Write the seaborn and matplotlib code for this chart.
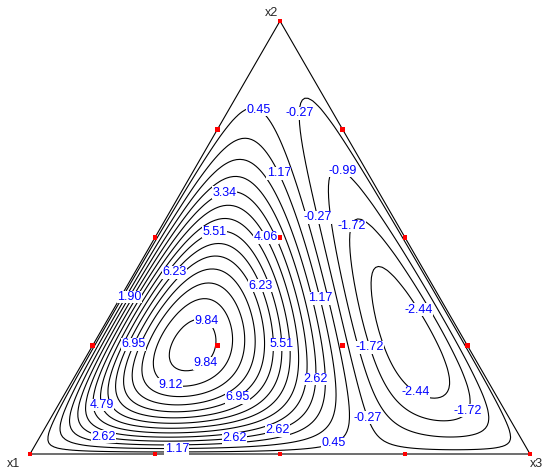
import numpy as np
import matplotlib
matplotlib.use("Agg")
import matplotlib.pyplot as plt
import matplotlib.tri as mtri
import seaborn as sns
import pandas as pd

# design points of the {3,4} simplex lattice (red squares)
design_x1 = [1.0, 0.0, 0.0, 0.75, 0.50, 0.25, 0.75, 0.50, 0.25, 0.0, 0.0, 0.0, 0.50, 0.25, 0.25]
design_x2 = [0.0, 1.0, 0.0, 0.25, 0.50, 0.75, 0.0, 0.0, 0.0, 0.75, 0.50, 0.25, 0.25, 0.50, 0.25]
design_x3 = [0.0, 0.0, 1.0, 0.0, 0.0, 0.0, 0.25, 0.50, 0.75, 0.25, 0.50, 0.75, 0.25, 0.25, 0.50]

# response (composition x1, x2, x3 -> value)
read_x1 = [0.475, 0.541, 0.654, 0.661, 0.521, 0.501, 0.342, 0.374, 0.379, 0.801,
           0.276, 0.311, 0.836, 0.568, 0.478, 0.337, 0.613, 0.177, 0.242, 0.695,
           0.138, 0.377, 0.062, 0.158, 0.282, 0.058, 0.100, 0.203, 0.082, 0.055, 0.162]
read_x2 = [0.327, 0.198, 0.141, 0.251, 0.134, 0.419, 0.389, 0.516, 0.251, 0.113,
           0.500, 0.601, 0.032, 0.048, 0.048, 0.173, 0.357, 0.650, 0.357, 0.021,
           0.804, 0.030, 0.788, 0.544, 0.083, 0.645, 0.528, 0.246, 0.104, 0.334, 0.141]
read_x3 = [0.198, 0.261, 0.206, 0.088, 0.345, 0.080, 0.269, 0.110, 0.370, 0.086,
           0.224, 0.087, 0.132, 0.384, 0.474, 0.490, 0.029, 0.173, 0.401, 0.284,
           0.058, 0.593, 0.150, 0.298, 0.635, 0.297, 0.372, 0.551, 0.814, 0.611, 0.698]
read_y = [9.84, 9.84, 9.12, 6.95, 6.95, 6.23, 6.23, 5.51, 5.51, 4.79,
          4.06, 3.34, 2.62, 2.62, 2.62, 2.62, 1.90, 1.17, 1.17, 1.17,
          0.45, 0.45, -0.27, -0.27, -0.27, -0.99, -1.72, -1.72, -1.72, -2.44, -2.44]

# extra readings at the top of the hill and bottom of the valley
peak_x1 = [0.565, 0.103]
peak_x2 = [0.251, 0.274]
peak_x3 = [0.184, 0.623]
peak_y = [10.3, -2.8]

contour_levels = [-2.44, -1.72, -0.99, -0.27, 0.45, 1.17, 1.90, 2.62, 3.34,
                  4.06, 4.79, 5.51, 6.23, 6.95, 7.67, 8.40, 9.12, 9.84]


def to_xy(a, b, c):
    a, b, c = np.asarray(a), np.asarray(b), np.asarray(c)
    s = a + b + c
    return (c + 0.5 * b) / s, (np.sqrt(3) / 2) * b / s


def basis(a, b, c):
    a, b, c = np.asarray(a), np.asarray(b), np.asarray(c)
    p = a * b * c
    return np.column_stack([p * a, p * b, p * c, p * a * b, p * a * c, p * b * c])


# fit response surface (zero on the binary edges)
fx1 = np.r_[read_x1, peak_x1]
fx2 = np.r_[read_x2, peak_x2]
fx3 = np.r_[read_x3, peak_x3]
fy = np.r_[read_y, peak_y]
coef, *_ = np.linalg.lstsq(basis(fx1, fx2, fx3), fy, rcond=None)

n = 150
g2, g3 = [], []
for i in range(n + 1):
    for j in range(n + 1 - i):
        g2.append(i / n)
        g3.append(j / n)
g2 = np.array(g2)
g3 = np.array(g3)
g1 = 1 - g2 - g3
gx, gy = to_xy(g1, g2, g3)
gz = basis(g1, g2, g3) @ coef
tri = mtri.Triangulation(gx, gy)

sns.set_style("white")
plt.rcParams["font.family"] = ["Liberation Sans", "DejaVu Sans"]

fig = plt.figure(figsize=(5.42, 4.70), dpi=100)
ax = fig.add_axes([0, 0, 1, 1])
ax.set_xlim(-0.06, 1.024)
ax.set_ylim(-0.032, 0.908)
ax.set_aspect("equal")
ax.axis("off")

cs = ax.tricontour(tri, gz, levels=contour_levels, colors="black",
                   linewidths=0.8, linestyles="solid")

# triangle outline
vx, vy = to_xy([1, 0, 0, 1], [0, 1, 0, 0], [0, 0, 1, 0])
ax.plot(vx, vy, color="black", lw=0.8)

# contour labels: put each one on its own level, nearest to where it was read
lx, ly = to_xy(read_x1, read_x2, read_x3)
paths = cs.get_paths()
for px, py, val in zip(lx, ly, read_y):
    k = int(np.argmin(np.abs(np.asarray(cs.levels) - val)))
    verts = paths[k].vertices
    if len(verts):
        d = np.hypot(verts[:, 0] - px, verts[:, 1] - py)
        px, py = verts[np.argmin(d)]
    ax.text(px, py, f"{val:.2f}", fontsize=9, color="blue", ha="center", va="center",
            zorder=4, bbox=dict(facecolor="white", edgecolor="none", pad=0.3))

dx, dy = to_xy(design_x1, design_x2, design_x3)
pts = pd.DataFrame({"x": dx, "y": dy})
sns.scatterplot(data=pts, x="x", y="y", ax=ax, marker="s", s=12,
                color="red", edgecolor="none", zorder=5, legend=False)

ax.text(-0.034, -0.02, "x1", fontsize=9, ha="center", va="center")
ax.text(0.482, 0.882, "x2", fontsize=9, ha="center", va="center")
ax.text(1.012, -0.02, "x3", fontsize=9, ha="center", va="center")

fig.savefig("out.png", dpi=100, facecolor="white")
